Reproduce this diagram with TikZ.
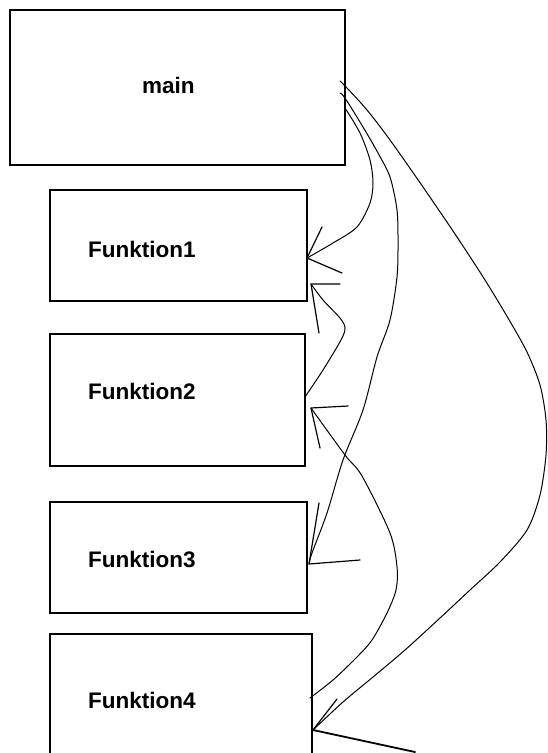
\documentclass[tikz,border=0pt]{standalone}
\usepackage{fontspec}
\setmainfont{Liberation Sans}
\begin{document}
\begin{tikzpicture}[x=1pt,y=-1pt,
  box/.style={draw=black, line width=1.5pt, inner sep=0pt, outer sep=0pt, anchor=north west},
  fname/.style={font=\bfseries\fontsize{22.5}{27}\selectfont, inner sep=0pt, anchor=base west},
  wire/.style={line width=1pt, black, line join=round, line cap=round},
  barb/.style={line width=1.2pt, black, line cap=round},
  heavybarb/.style={line width=1.8pt, black, line cap=round}]
\useasboundingbox (0,0) rectangle (547,753);

% boxes
\node[box, minimum width=335pt, minimum height=155pt] (main) at (10,10) {};
\node[box, minimum width=257pt, minimum height=111pt] (f1) at (50,190) {};
\node[box, minimum width=255pt, minimum height=132pt] (f2) at (50,334) {};
\node[box, minimum width=257pt, minimum height=111pt] (f3) at (50,502) {};
\node[box, minimum width=262pt, minimum height=150pt] (f4) at (50,634) {};

% box titles
\node[fname] (tmain) at (142,93) {main};
\node[fname] (tf1) at (88,257) {Funktion1};
\node[fname] (tf2) at (88,399) {Funktion2};
\node[fname] (tf3) at (88,567) {Funktion3};
\node[fname] (tf4) at (88,708) {Funktion4};

% connector end points on the box edges
\coordinate (mC) at ([xshift=-5pt,yshift=-71pt]main.north east);
\coordinate (mB) at ([xshift=-5pt,yshift=-83pt]main.north east);
\coordinate (mA) at ([yshift=-98pt]main.north east);
\coordinate (tA) at ([yshift=-68pt]f1.north east);
\coordinate (tF) at ([xshift=4pt,yshift=-94pt]f1.north east);
\coordinate (sF) at ([yshift=-63pt]f2.north east);
\coordinate (tE) at ([xshift=6pt,yshift=-74pt]f2.north east);
\coordinate (tB) at ([xshift=2pt,yshift=-62pt]f3.north east);
\coordinate (sE) at ([xshift=-2pt,yshift=-64pt]f4.north east);
\coordinate (tC) at ([xshift=1pt,yshift=-96pt]f4.north east);

% main -> Funktion1
\draw[wire] plot[smooth] coordinates {(mA) (360,133) (370,160) (373,183) (370,203) (357,227) (333,243) (tA)};
\draw[barb] (tA) -- ++(15,-31) (tA) -- ++(35,15);

% main -> Funktion3
\draw[wire] plot[smooth] coordinates {(mB) (345,98) (363,127) (378,153) (390,177) (397,210) (398,243) (397,277) (390,320) (377,357) (363,410) (343,460) (327,513) (312,553) (tB)};
\draw[barb] (tB) -- ++(10,-61) (tB) -- ++(51,-4);

% main -> Funktion4
\draw[wire] plot[smooth] coordinates {(mC) (347,88) (367,110) (390,140) (423,187) (457,237) (485,280) (508,318) (527,352) (540,385) (546,420) (546,455) (540,495) (527,530) (500,562) (470,590) (440,618) (405,650) (373,677) (343,702) (tC)};
\draw[barb] (tC) -- ++(24,-31);
\draw[heavybarb] (tC) -- ++(102,22);

% Funktion2 -> Funktion1
\draw[wire] plot[smooth] coordinates {(sF) (323,370) (341,340) (345,328) (340,318) (323,300) (tF)};
\draw[barb] (tF) -- ++(29,0) (tF) -- ++(8,49);

% Funktion4 -> Funktion2
\draw[wire] plot[smooth] coordinates {(sE) (333,680) (357,657) (372,640) (387,613) (396,590) (397,567) (390,533) (362,476) (345,455) (tE)};
\draw[barb] (tE) -- ++(37,-2) (tE) -- ++(9,40);
\end{tikzpicture}
\end{document}
